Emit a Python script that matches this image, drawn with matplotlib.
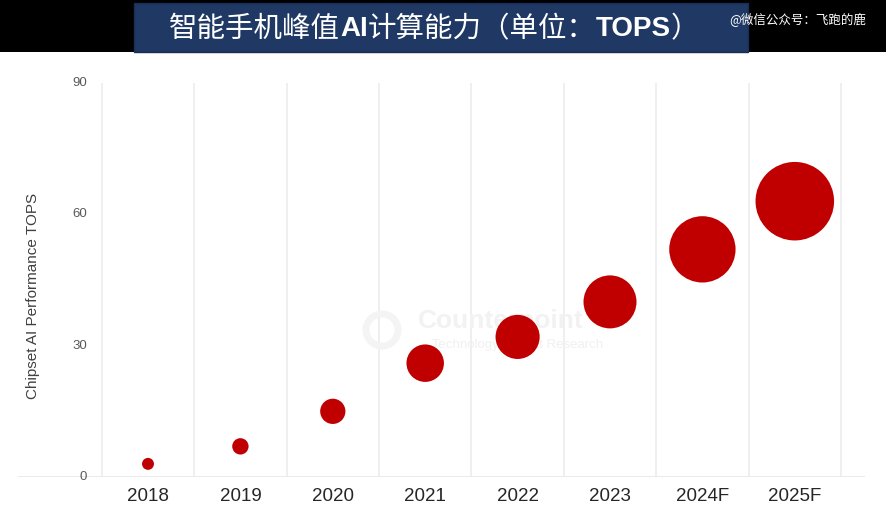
import matplotlib.pyplot as plt
from matplotlib.patches import Rectangle

# data
years = ['2018', '2019', '2020', '2021', '2022', '2023', '2024F', '2025F']
tops = [3, 7, 15, 26, 32, 40, 52, 63]
yticks = [0, 30, 60, 90]

# title pieces: latin parts are bold in the reference
title_parts = [('智能手机峰值', False), ('AI', True), ('计算能力（单位：', False),
               ('TOPS', True), ('）', False)]
watermark = '@微信公众号：飞跑的鹿'
ylabel = 'Chipset AI Performance TOPS'

plt.rcParams['font.family'] = ['Liberation Sans', 'DejaVu Sans']
cjk = ['Noto Sans CJK SC', 'DejaVu Sans']

W, H, DPI = 886, 521, 100
fig = plt.figure(figsize=(W / DPI, H / DPI), dpi=DPI)
fig.patch.set_facecolor('white')

def px(x, y):
    # pixel (from top-left) -> figure fraction
    return x / W, 1 - y / H

# black band + title box
fig.patches.append(Rectangle((0, 1 - 52 / H), 1, 52 / H, transform=fig.transFigure,
                             facecolor='black', edgecolor='none', zorder=0))
fig.patches.append(Rectangle((134 / W, 1 - 52 / H), (748 - 134) / W, 49 / H, transform=fig.transFigure,
                             facecolor='#203864', edgecolor='#1a2d52', lw=1, zorder=1))

# lay the title out piece by piece
renderer = fig.canvas.get_renderer()
cur = 169
for txt, bold in title_parts:
    if bold:
        t = fig.text(*px(cur, 29), txt, color='white', fontsize=20, weight='bold',
                     family=['Liberation Sans'], ha='left', va='center', zorder=3)
    else:
        t = fig.text(*px(cur, 29), txt, color='white', fontsize=20.5, family=cjk,
                     ha='left', va='center', zorder=3)
    cur += t.get_window_extent(renderer).width

fig.text(*px(729, 19), watermark, color='white', fontsize=9, family=cjk,
         ha='left', va='center', zorder=4)

# axes: baseline runs from x=18 to x=865, y=0 at 477, y=90 at 83
left, right = 18, 865
ax = fig.add_axes([left / W, (H - 477) / H, (right - left) / W, (477 - 83) / H])
x = list(range(len(years)))
x0, step = 148, 92.4
ax.set_xlim((left - x0) / step, (right - x0) / step)
ax.set_ylim(0, 90)
for s in ax.spines.values():
    s.set_visible(False)
ax.set_yticks([])
ax.set_xticks(x)
ax.set_xticklabels(years, fontsize=13.5, color='#262626')
ax.tick_params(axis='x', length=0, pad=8)

# vertical separators between categories
ax.vlines([i - 0.5 for i in range(len(years) + 1)], 0, 90, color='#ebebeb', lw=1.1, zorder=1)
ax.axhline(0, color='#e8e8e8', lw=1.3, zorder=1)

# y tick labels sit inside the axes area
lx = (87 - x0) / step
for t in yticks:
    ax.text(lx, t, str(t), ha='right', va='center', fontsize=9.5, color='#595959')
ax.text((33 - x0) / step, 41.3, ylabel, rotation=90, ha='center', va='center',
        fontsize=11, color='#404040')

# faint Counterpoint watermark
ax.scatter([(382 - x0) / step], [(477 - 330) / 4.378], s=(2 * 16 * 0.72) ** 2,
           facecolors='none', edgecolors='#f4f4f4', linewidths=5, zorder=1)
ax.text((418 - x0) / step, (477 - 321) / 4.378, 'Counterpoint', fontsize=19, weight='bold',
        color='#f2f2f2', ha='left', va='center', zorder=1)
ax.text((432 - x0) / step, (477 - 345) / 4.378, 'Technology Market Research', fontsize=9.5,
        color='#f0f0f0', ha='left', va='center', zorder=1)

# bubble radius grows linearly with the value (px), converted to scatter area
radius_px = [4.3 + 0.555 * v for v in tops]
sizes = [(2 * r * 72 / DPI) ** 2 for r in radius_px]
ax.scatter(x, tops, s=sizes, color='#c00000', edgecolors='none', zorder=3)

fig.savefig('out.png', dpi=DPI)
